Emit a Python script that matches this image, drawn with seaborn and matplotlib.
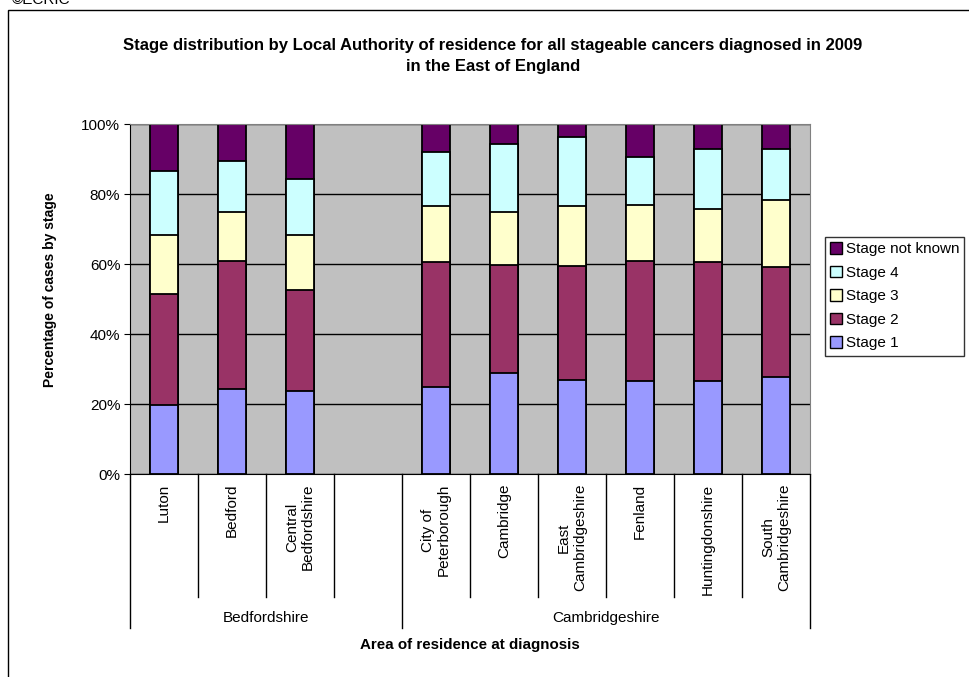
import matplotlib
matplotlib.use("Agg")
import matplotlib.pyplot as plt
import matplotlib.patches as mpatches
import matplotlib.transforms as mtransforms
import seaborn as sns
import pandas as pd

# data (percent of cases)
areas = ["Luton", "Bedford", "Central\nBedfordshire", "City of\nPeterborough", "Cambridge",
         "East\nCambridgeshire", "Fenland", "Huntingdonshire", "South\nCambridgeshire"]
# slot order, with one empty slot between the two counties
order = ["Luton", "Bedford", "Central\nBedfordshire", " ", "City of\nPeterborough", "Cambridge",
         "East\nCambridgeshire", "Fenland", "Huntingdonshire", "South\nCambridgeshire"]
groups = ["Bedfordshire", "Cambridgeshire"]
group_slots = [(0, 4), (4, 10)]

stage1 = [19.7, 24.4, 23.7, 24.8, 28.9, 26.8, 26.7, 26.7, 27.8]
stage2 = [31.7, 36.5, 28.9, 35.8, 30.8, 32.5, 34.3, 34.0, 31.4]
stage3 = [17.0, 14.0, 15.6, 15.9, 15.2, 17.4, 16.0, 15.0, 19.1]
stage4 = [18.3, 14.5, 16.1, 15.5, 19.3, 19.7, 13.7, 17.2, 14.6]
not_known = [13.3, 10.6, 15.7, 8.0, 5.8, 3.6, 9.3, 7.1, 7.1]

stages = ["Stage 1", "Stage 2", "Stage 3", "Stage 4", "Stage not known"]
colors = ["#9999FF", "#993366", "#FFFFCC", "#CCFFFF", "#660066"]

df = pd.DataFrame({"area": areas, "Stage 1": stage1, "Stage 2": stage2,
                   "Stage 3": stage3, "Stage 4": stage4, "Stage not known": not_known})
cum = df[stages].cumsum(axis=1)
cum["area"] = df["area"]

plt.rcParams['font.family'] = ['Liberation Sans', 'DejaVu Sans']
plt.rcParams['font.size'] = 11

W, H = 969, 677
fig = plt.figure(figsize=(W / 100, H / 100), dpi=100)
ax = fig.add_axes([130 / W, 1 - 474 / H, 680 / W, 350 / H])
ax.set_facecolor("#C0C0C0")

# stacked bars: draw cumulative totals from the top layer down
for stage, col in reversed(list(zip(stages, colors))):
    sns.barplot(data=cum, x="area", y=stage, order=order, color=col, width=0.4,
                edgecolor="black", linewidth=1.3, errorbar=None, saturation=1, ax=ax)

ax.set_xlim(-0.5, len(order) - 0.5)
ax.set_ylim(0, 100)
ax.set_yticks(range(0, 101, 20))
ax.set_yticklabels([f"{v}%" for v in range(0, 101, 20)], fontsize=11)
ax.yaxis.grid(True, color="black", linewidth=1)
ax.set_axisbelow(True)
ax.tick_params(axis="y", length=4, direction="out", pad=3)
ax.tick_params(axis="x", length=0, pad=7)
ax.set_xticks(range(len(order)))
ax.set_xticklabels(order, rotation=90, fontsize=11, va="top", ha="center",
                   multialignment="center")
for s in ["top", "right"]:
    ax.spines[s].set_color("#808080")
for s in ["left", "bottom"]:
    ax.spines[s].set_color("black")
ax.set_xlabel("")
ax.set_ylabel("Percentage of cases by stage", fontsize=10, fontweight="bold")
ax.yaxis.set_label_coords((57 - 130) / 680, (474 - 290) / 350)

# category and county divider lines below the axis
trans = mtransforms.blended_transform_factory(ax.transData, ax.transAxes)
cat_bottom = -(597 - 474) / 350
grp_bottom = -(628 - 474) / 350
group_edges = {g for pair in group_slots for g in pair}
for i in range(len(order) + 1):
    x = i - 0.5
    y0 = grp_bottom if i in group_edges else cat_bottom
    ax.plot([x, x], [0, y0], color="black", linewidth=1, transform=trans, clip_on=False)
for name, (a, b) in zip(groups, group_slots):
    ax.text((a + b - 1) / 2, -(618 - 474) / 350, name, transform=trans,
            ha="center", va="center", fontsize=11)

fig.text(470 / W, 1 - 645 / H, "Area of residence at diagnosis", ha="center", va="center",
         fontsize=10.9, fontweight="bold")
fig.text(493 / W, 1 - 56 / H,
         "Stage distribution by Local Authority of residence for all stageable cancers diagnosed in 2009\nin the East of England",
         ha="center", va="center", fontsize=12, fontweight="bold", linespacing=1.45)

# legend, top entry first
handles = [mpatches.Patch(facecolor=c, edgecolor="black", linewidth=1, label=s)
           for s, c in reversed(list(zip(stages, colors)))]
leg = fig.legend(handles=handles, loc="upper left", bbox_to_anchor=(825 / W, 1 - 237 / H),
                 bbox_transform=fig.transFigure, frameon=True, fancybox=False, fontsize=11,
                 handlelength=0.75, handleheight=0.75, handletextpad=0.25, labelspacing=0.62,
                 borderpad=0.35, borderaxespad=0)
leg.get_frame().set_edgecolor("black")
leg.get_frame().set_linewidth(1)

# outer chart frame and copyright note
fig.patches.append(mpatches.Rectangle((8 / W, -0.1), 1.2, 1 - 10 / H + 0.1, transform=fig.transFigure,
                                      fill=False, edgecolor="black", linewidth=1))
fig.text(12 / W, 1 - 4 / H, "©ECRIC", ha="left", va="baseline", fontsize=11)

fig.savefig("out.png", dpi=100)
